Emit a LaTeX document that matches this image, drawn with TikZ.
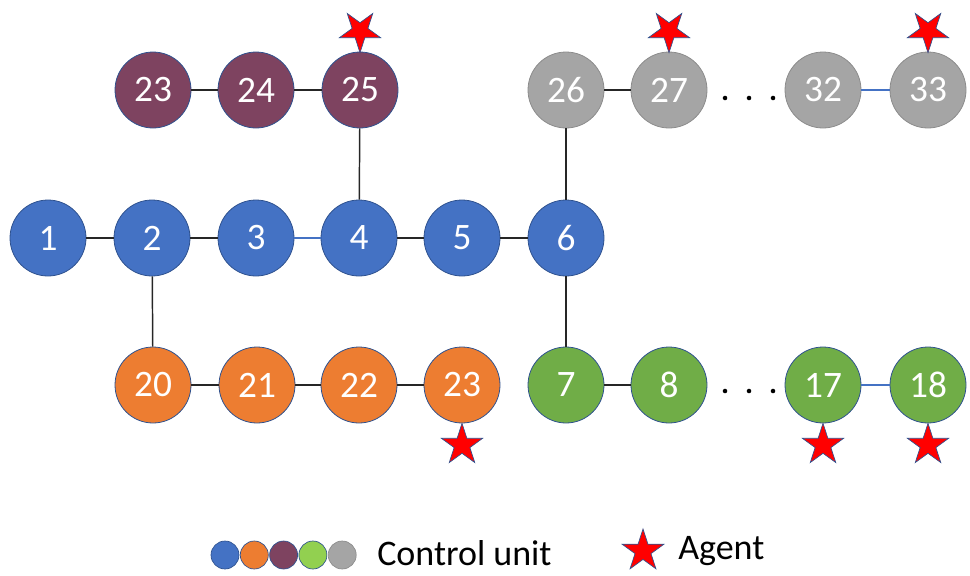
\documentclass[tikz,border=0pt]{standalone}
\usepackage{fontspec}
\setmainfont{Carlito}
\usetikzlibrary{shapes.geometric}

\definecolor{cublue}{HTML}{4472C4}
\definecolor{cuorange}{HTML}{ED7D31}
\definecolor{cupurple}{HTML}{7E4360}
\definecolor{cugreen}{HTML}{70AD47}
\definecolor{culime}{HTML}{92D050}
\definecolor{cugrey}{HTML}{A5A5A5}
\definecolor{rimblue}{HTML}{2F528F}
\definecolor{rimgrey}{HTML}{8C8C8C}
\definecolor{wire}{HTML}{262626}

\begin{document}
\begin{tikzpicture}[x=0.75pt,y=-0.75pt,
  unit/.style={circle,minimum size=57pt,inner sep=0pt,draw=rimblue,line width=0.6pt,
    text=white,font=\fontsize{28}{32}\selectfont},
  bunit/.style={unit,fill=cublue},
  ounit/.style={unit,fill=cuorange},
  punit/.style={unit,fill=cupurple},
  gunit/.style={unit,fill=cugreen},
  sunit/.style={unit,fill=cugrey,draw=rimgrey},
  link/.style={draw=wire,line width=1.1pt},
  bluelink/.style={draw=cublue,line width=0.9pt},
  agent/.style={star,star points=5,star point ratio=2.618,minimum size=32.5pt,
    inner sep=0pt,fill=red,draw=rimblue,line width=0.5pt},
  dotmark/.style={circle,fill=black,inner sep=0pt,minimum size=3.4pt},
  swatch/.style={circle,minimum size=21pt,inner sep=0pt,draw=rimblue,line width=0.5pt},
  legendtext/.style={inner sep=0pt,font=\fontsize{27}{31}\selectfont,text=black},
]
\useasboundingbox (0,0) rectangle (970,575);

% top row: purple branch and grey branch
\node[punit] (p23) at (153,90) {23};
\node[punit] (p24) at (256,90) {24};
\node[punit] (p25) at (360,90) {25};
\node[sunit] (s26) at (566,90) {26};
\node[sunit] (s27) at (669,90) {27};
\node[sunit] (s32) at (823,90) {32};
\node[sunit] (s33) at (928,90) {33};

% middle row: blue main line
\node[bunit] (b1) at (48,238) {1};
\node[bunit] (b2) at (152,238) {2};
\node[bunit] (b3) at (256,238) {3};
\node[bunit] (b4) at (359,238) {4};
\node[bunit] (b5) at (462,238) {5};
\node[bunit] (b6) at (566,238) {6};

% bottom row: orange branch and green branch
\node[ounit] (o20) at (153,385) {20};
\node[ounit] (o21) at (257,385) {21};
\node[ounit] (o22) at (359,385) {22};
\node[ounit] (o23) at (462,385) {23};
\node[gunit] (g7)  at (566,385) {7};
\node[gunit] (g8)  at (669,385) {8};
\node[gunit] (g17) at (823,385) {17};
\node[gunit] (g18) at (928,385) {18};

% connections
\draw[link] (p23) -- (p24);
\draw[link] (p24) -- (p25);
\draw[link] (p25) -- (b4);
\draw[link] (s26) -- (s27);
\draw[bluelink] (s32) -- (s33);
\draw[link] (s26) -- (b6);
\draw[link] (b1) -- (b2);
\draw[link] (b2) -- (b3);
\draw[bluelink] (b3) -- (b4);
\draw[link] (b4) -- (b5);
\draw[link] (b5) -- (b6);
\draw[link] (b2) -- (o20);
\draw[link] (b6) -- (g7);
\draw[link] (o20) -- (o21);
\draw[link] (o21) -- (o22);
\draw[link] (o22) -- (o23);
\draw[link] (g7) -- (g8);
\draw[bluelink] (g17) -- (g18);

% elided units
\node[dotmark] (td1) at (725,98) {};
\node[dotmark] (td2) at (749,98) {};
\node[dotmark] (td3) at (773,98) {};
\node[dotmark] (bd1) at (725,391) {};
\node[dotmark] (bd2) at (749,391) {};
\node[dotmark] (bd3) at (773,391) {};

% agents
\node[agent,rotate=180] (a25) at (360,31) {};
\node[agent,rotate=180] (a27) at (669,31) {};
\node[agent,rotate=180] (a33) at (928,31) {};
\node[agent] (a23) at (462,445) {};
\node[agent] (a17) at (823,445) {};
\node[agent] (a18) at (928,445) {};

% legend
\node[swatch,fill=cublue]   (l1) at (225,555) {};
\node[swatch,fill=cuorange] (l2) at (254.3,555) {};
\node[swatch,fill=cupurple] (l3) at (283.6,555) {};
\node[swatch,fill=culime]   (l4) at (312.9,555) {};
\node[swatch,fill=cugrey,draw=rimgrey] (l5) at (342.2,555) {};
\node[legendtext,anchor=west] (lcu) at (377,553) {Control unit};
\node[agent,minimum size=33pt] (lstar) at (643,551) {};
\node[legendtext,anchor=west] (lag) at (678,551) {Agent};
\end{tikzpicture}
\end{document}
